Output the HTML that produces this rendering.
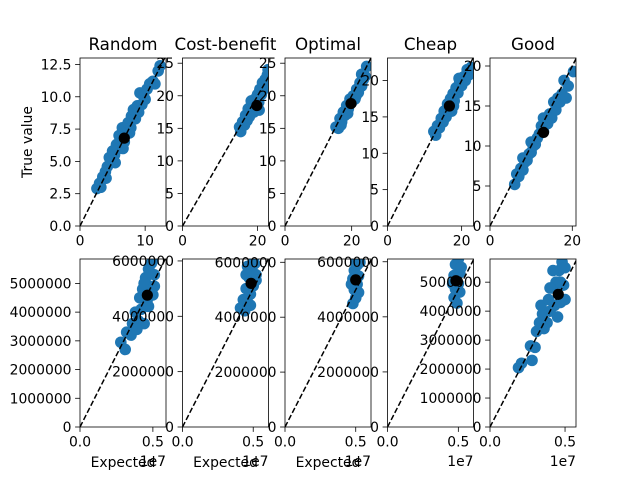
<!DOCTYPE html>
<html><head><meta charset="utf-8"><style>
html,body{margin:0;padding:0;background:#fff;}
svg{display:block;font-family:"DejaVu Sans","Liberation Sans",sans-serif;}
</style></head><body>
<svg id="fig" width="640" height="480" viewBox="0 0 640 480" xmlns="http://www.w3.org/2000/svg"></svg>
<script>
const titles = ["Random","Cost-benefit","Optimal","Cheap","Good"];
// top row: value units
const topXMax = [13.2,22.9,25.8,23.2,20.9];
const topYMax = [13.0,25.8,25.8,23.1,21.0];
const topXTicks = [[0,10],[0,20],[0,20],[0,20],[0,20]];
const topYTicks = [[0,2.5,5,7.5,10,12.5],[0,5,10,15,20,25],[0,5,10,15,20,25],[0,5,10,15,20],[0,5,10,15,20]];
const topYTickLabels = [["0.0","2.5","5.0","7.5","10.0","12.5"],["0","5","10","15","20","25"],["0","5","10","15","20","25"],["0","5","10","15","20"],["0","5","10","15","20"]];
const topRandom = [[2.6,2.9],[3.2,3.0],[3.5,3.8],[3.9,4.2],[4.2,4.6],[4.5,5.3],[4.8,5.0],[5.0,5.8],[5.3,5.5],[5.6,6.3],[5.9,6.0],[6.2,6.8],[6.0,7.0],[6.5,7.6],[6.8,6.5],[7.1,7.3],[7.4,8.0],[7.6,7.2],[7.9,8.5],[8.2,9.0],[8.5,8.3],[8.8,9.3],[9.2,10.3],[9.5,9.4],[9.8,10.0],[10.3,10.6],[10.7,11.0],[11.2,11.2],[11.5,11.0],[12.0,12.0],[12.3,12.4],[5.4,4.9],[6.6,6.0],[7.8,7.6],[9.0,8.8],[10.0,9.8],[4.0,3.7],[3.0,3.3]];
const topCost = [[15.2,15.2],[15.5,14.5],[16.0,16.0],[16.5,15.5],[16.8,17.0],[17.2,16.2],[17.5,18.0],[18.0,17.2],[18.3,19.2],[18.6,18.0],[19.0,17.5],[19.3,19.5],[19.6,18.8],[20.0,20.2],[20.3,19.0],[20.6,21.0],[21.0,20.2],[21.3,22.0],[21.6,21.0],[22.0,22.5],[22.3,21.5],[22.6,23.2],[22.8,24.0],[20.4,17.8],[17.8,16.8]];
const topOptimal = [[15.3,15.2],[16.0,15.0],[16.5,16.5],[17.0,16.0],[17.5,17.5],[18.0,17.0],[18.5,18.5],[19.0,18.0],[19.5,19.5],[20.0,19.0],[20.5,20.0],[21.0,19.5],[21.5,21.0],[22.0,20.5],[22.5,22.0],[23.0,21.5],[23.5,22.5],[23.0,23.3],[24.0,23.0],[24.5,24.5],[16.8,15.5],[18.8,17.3],[21.3,20.0]];
const topCheap = [[12.5,13.0],[13.0,12.5],[13.5,13.8],[14.0,13.5],[14.5,14.8],[15.0,14.3],[15.3,15.8],[15.8,15.0],[16.2,16.8],[16.6,16.0],[17.0,17.5],[17.3,15.8],[17.7,18.2],[18.0,17.2],[18.5,19.0],[19.0,18.3],[19.5,19.8],[20.0,19.3],[20.5,20.5],[21.0,20.0],[21.5,21.5],[22.0,20.8],[22.5,21.8],[19.3,20.3],[17.8,16.5]];
const topGood = [[6,5.2],[6.5,6.5],[7,6.2],[7.5,7.2],[8,7],[8.5,8],[9,8.2],[9.5,9],[10,9.2],[10.5,10],[11,10.2],[11.5,11],[12,11.5],[12.5,12.5],[13,11.8],[13.5,13],[14,12.8],[14.5,14],[15,13.5],[15.5,15.5],[16,14.5],[16.5,16],[17,15.5],[17.5,16.5],[18,18.2],[18.5,16],[19,17.5],[20.3,19.3],[13,13.5],[10,10.5],[8,8.5]];
const topMeans = [[6.8,6.8],[19.8,18.5],[19.8,18.8],[16.7,16.5],[13.0,11.7]];
// bottom row: millions
const botXMax = [5.9,6.08,6.08,6.07,5.73];
const botYMax = [5.85,6.07,6.12,6.1,5.8];
const botYTicks = [[0,1,2,3,4,5],[0,2,4,6],[0,2,4,6],[0,2,4,6],[0,1,2,3,4,5]];
const botXTicks = [0,5];
const botXTickLabels = ["0.0","0.5"];
const botRandom = [[2.8,2.95],[3.1,2.7],[3.2,3.3],[3.5,3.2],[3.6,3.6],[3.8,4.0],[4.0,3.7],[4.1,4.5],[4.2,4.1],[4.3,4.8],[4.4,3.6],[4.5,5.2],[4.6,4.4],[4.7,5.5],[4.8,4.9],[4.9,5.7],[5.0,4.6],[5.1,5.3],[5.0,5.8],[4.7,4.2],[4.4,5.0],[3.9,3.4],[4.8,5.4],[5.1,4.9]];
const botCost = [[4.1,4.3],[4.4,4.2],[4.3,4.6],[4.5,5.0],[4.6,4.5],[4.7,5.4],[4.8,4.8],[4.9,5.7],[5.0,5.1],[5.1,5.9],[5.2,5.5],[4.6,5.8],[5.0,6.0],[4.8,4.4],[5.2,5.3],[4.5,5.5]];
const botOptimal = [[4.8,4.5],[5.0,4.7],[4.9,5.0],[5.1,5.2],[4.8,5.4],[5.2,5.5],[4.9,5.7],[5.1,5.9],[5.3,6.0],[4.7,5.2],[5.2,4.9],[5.0,6.0]];
const botCheap = [[4.7,4.7],[4.9,4.5],[4.8,5.0],[5.0,5.2],[4.7,5.5],[5.1,5.6],[4.8,5.9],[5.0,6.1],[5.2,5.8],[4.6,5.2],[5.1,4.9]];
const botGood = [[1.9,2.05],[2.1,2.2],[2.8,2.3],[2.7,2.8],[3.0,2.75],[3.1,3.3],[3.3,3.6],[3.5,3.9],[3.4,4.2],[3.8,3.6],[3.9,4.4],[4.0,4.0],[4.2,4.8],[4.3,4.2],[4.4,5.0],[4.5,3.8],[4.6,5.4],[4.7,4.3],[4.8,5.7],[4.9,4.9],[5.0,5.5],[4.2,5.4],[4.0,4.8],[5.0,4.4],[4.7,5.0],[3.6,3.4]];
const botMeans = [[4.62,4.59],[4.85,5.19],[5.0,5.36],[4.83,5.31],[4.55,4.58]];

const topPts=[topRandom,topCost,topOptimal,topCheap,topGood];
const botPts=[botRandom,botCost,botOptimal,botCheap,botGood];
const NS="http://www.w3.org/2000/svg";
const svg=document.getElementById('fig');
const lefts=[80,182.5,285,387.5,490], W=86;
function mk(tag,attrs,parent){const e=document.createElementNS(NS,tag);for(const k in attrs)e.setAttribute(k,attrs[k]);(parent||svg).appendChild(e);return e;}
const defs=mk('defs',{});
function panel(i,row){
  const L=lefts[i], T=row===0?58:259, B=row===0?226:427, H=B-T;
  const xMax=row===0?topXMax[i]:botXMax[i], yMax=row===0?topYMax[i]:botYMax[i];
  const sx=v=>L+v/xMax*W, sy=v=>B-v/yMax*H;
  const g=mk('g',{});
  
  
  const cid='c'+row+i;
  const cp=mk('clipPath',{id:cid},defs); mk('rect',{x:L,y:T,width:W,height:H},cp);
  const pg=mk('g',{'clip-path':'url(#'+cid+')'},g);
  const pts=row===0?topPts[i]:botPts[i];
  pts.forEach(p=>{const c=mk('circle',{cx:sx(p[0]),cy:sy(p[1]),r:5.8,fill:'#1f77b4'},pg);
    
    });
  const m=(row===0?topMeans:botMeans)[i];
  const mc=mk('circle',{cx:sx(m[0]),cy:sy(m[1]),r:5.6,fill:'#000'},pg);
  
  
  const lim=Math.max(xMax,yMax)*1.05;
  const ln=mk('line',{x1:sx(0),y1:sy(0),x2:sx(lim),y2:sy(lim),stroke:'#000','stroke-width':1.5,'stroke-dasharray':'5.55 2.4'},pg);
  
  
  mk('rect',{x:L,y:T,width:W,height:H,fill:'none',stroke:'#000','stroke-width':0.8},g);
  const yt=row===0?topYTicks[i]:botYTicks[i];
  yt.forEach((v,k)=>{const y=sy(v);mk('line',{x1:L-4.9,y1:y,x2:L,y2:y,stroke:'#000','stroke-width':0.8},g);
    const lab=row===0?topYTickLabels[i][k]:String(Math.round(v*1e6));
    const t=mk('text',{x:L-8.5,y:y+5,'text-anchor':'end','font-size':13.9,fill:'#000'},g);t.textContent=lab;
    
    });
  const xt=row===0?topXTicks[i]:botXTicks;
  xt.forEach((v,k)=>{const xx=sx(v);
    mk('line',{x1:xx,y1:B,x2:xx,y2:B+4.9,stroke:'#000','stroke-width':0.8},g);
    const t=mk('text',{x:xx,y:B+19.5,'text-anchor':'middle','font-size':13.9,fill:'#000'},g);
    t.textContent=row===0?String(v):botXTickLabels[k];
    
    });
  if(row===0){const t=mk('text',{x:L+W/2,y:50,'text-anchor':'middle','font-size':16.7,fill:'#000'},g);t.textContent=titles[i];
    
    }
  else{
    if(i<3){const t=mk('text',{x:L+W/2,y:467,'text-anchor':'middle','font-size':13.9,fill:'#000'},g);t.textContent='Expected';
      
      }
    const o=mk('text',{x:L+W,y:466,'text-anchor':'end','font-size':13.9,fill:'#000'},g);o.textContent='1e7';
    
    
  }
}
for(let r=0;r<2;r++)for(let i=0;i<5;i++)panel(i,r);
const yl=mk('text',{x:0,y:0,'text-anchor':'middle','font-size':13.9,fill:'#000',transform:'translate(32,142) rotate(-90)'});
yl.textContent='True value';


</script>
</body></html>
